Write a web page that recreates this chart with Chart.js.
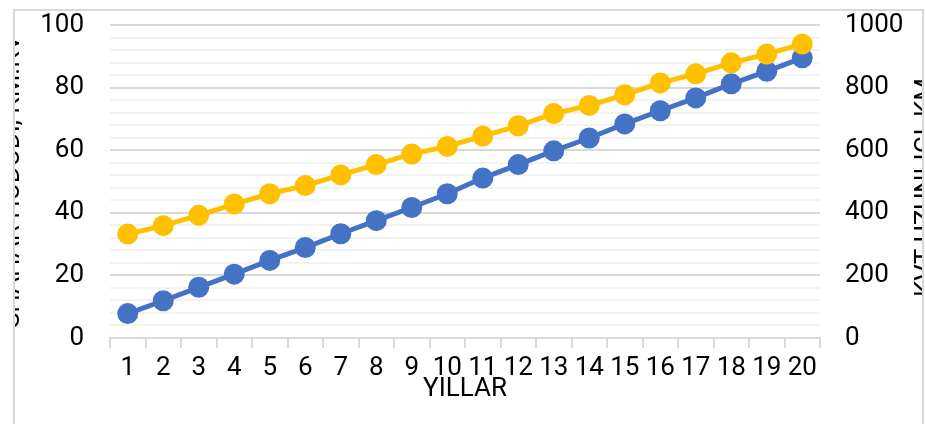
<!DOCTYPE html>
<html>
<head>
<meta charset="utf-8">
<script src="https://cdn.jsdelivr.net/npm/chart.js@4"></script>
<style>
html,body{margin:0;padding:0;background:#fff;}
#frame{position:absolute;left:13px;top:9px;width:911px;height:440px;box-sizing:border-box;border:2px solid #d9d9d9;overflow:hidden;background:#fff;}
#c{position:absolute;left:-15px;top:-11px;}
</style>
</head>
<body>
<div id="frame"><canvas id="c" width="925" height="424"></canvas></div>
<script>
const years = ['1','2','3','4','5','6','7','8','9','10','11','12','13','14','15','16','17','18','19','20'];
const areaValues = [7.8, 11.9, 16.2, 20.4, 24.8, 28.9, 33.3, 37.5, 41.7, 46.1, 51.1, 55.4, 59.8, 63.9, 68.4, 72.6, 76.7, 81.2, 85.2, 89.5];
const lengthValues = [332, 359, 392, 428, 461, 487, 521, 554, 588, 612, 645, 678, 717, 743, 777, 815, 844, 879, 907, 939];
const leftTickLabels = [0, 20, 40, 60, 80, 100];
const rightTickLabels = [0, 200, 400, 600, 800, 1000];
const xTitle = 'YILLAR';
const leftTitle = 'SHAHAR HUDUDI, KM.KV';
const rightTitle = 'KVT UZUNLIGI, KM';

Chart.defaults.font.family = 'Roboto';
Chart.defaults.font.size = 26;
Chart.defaults.color = '#000';

const sideTitles = {
  id: 'sideTitles',
  afterDraw(chart) {
    const ctx = chart.ctx, a = chart.chartArea;
    const cy = (a.top + a.bottom) / 2;
    ctx.save();
    ctx.font = '26px Roboto';
    ctx.fillStyle = '#000';
    ctx.textAlign = 'center';
    ctx.textBaseline = 'middle';
    ctx.translate(12.5, cy);
    ctx.rotate(-Math.PI / 2);
    ctx.fillText(leftTitle, 0, 0);
    ctx.restore();
    ctx.save();
    ctx.font = '26px Roboto';
    ctx.fillStyle = '#000';
    ctx.textAlign = 'center';
    ctx.textBaseline = 'middle';
    ctx.translate(926.5, cy + 6);
    ctx.rotate(-Math.PI / 2);
    ctx.fillText(rightTitle, 0, 0);
    ctx.restore();
  }
};

new Chart(document.getElementById('c'), {
  type: 'line',
  data: {
    labels: years,
    datasets: [
      {
        data: areaValues,
        yAxisID: 'y',
        borderColor: '#4472C4',
        backgroundColor: '#4472C4',
        pointBackgroundColor: '#4472C4',
        borderWidth: 5,
        pointRadius: 10.5,
        pointBorderWidth: 0,
        tension: 0,
        order: 1
      },
      {
        data: lengthValues,
        yAxisID: 'y1',
        borderColor: '#FFC000',
        backgroundColor: '#FFC000',
        pointBackgroundColor: '#FFC000',
        borderWidth: 5,
        pointRadius: 10.5,
        pointBorderWidth: 0,
        tension: 0,
        order: 0
      }
    ]
  },
  options: {
    responsive: false,
    animation: false,
    layout: { padding: { top: 25, left: 0, right: 0, bottom: 0 } },
    plugins: { legend: { display: false }, tooltip: { enabled: false } },
    scales: {
      x: {
        type: 'category',
        offset: true,
        grid: { offset: true, drawOnChartArea: false, drawTicks: true, tickLength: 10, color: '#d9d9d9', lineWidth: 2 },
        border: { display: true, color: '#d9d9d9', width: 2 },
        ticks: { padding: 5, maxRotation: 0, autoSkip: false },
        title: { display: true, text: xTitle, padding: { top: 0, bottom: 19 } },
        afterFit: s => { s.height = 86; }
      },
      y: {
        position: 'left',
        min: 0, max: 100,
        grid: {
          drawTicks: true,
          tickLength: 26,
          tickColor: 'rgba(0,0,0,0)',
          lineWidth: 2,
          color: c => (c.tick && c.tick.value % 20 === 0) ? '#d9d9d9' : '#f2f2f2'
        },
        border: { display: false },
        ticks: {
          stepSize: 4,
          autoSkip: false,
          padding: 0,
          callback: v => leftTickLabels.includes(v) ? String(v) : ''
        },
        afterFit: s => { s.width = 110; }
      },
      y1: {
        position: 'right',
        min: 0, max: 1000,
        grid: { drawOnChartArea: false, drawTicks: true, tickLength: 25, tickColor: 'rgba(0,0,0,0)' },
        border: { display: false },
        ticks: {
          stepSize: 200,
          autoSkip: false,
          padding: 0,
          callback: v => rightTickLabels.includes(v) ? String(v) : ''
        },
        afterFit: s => { s.width = 105; }
      }
    }
  },
  plugins: [sideTitles]
});
</script>
</body>
</html>
